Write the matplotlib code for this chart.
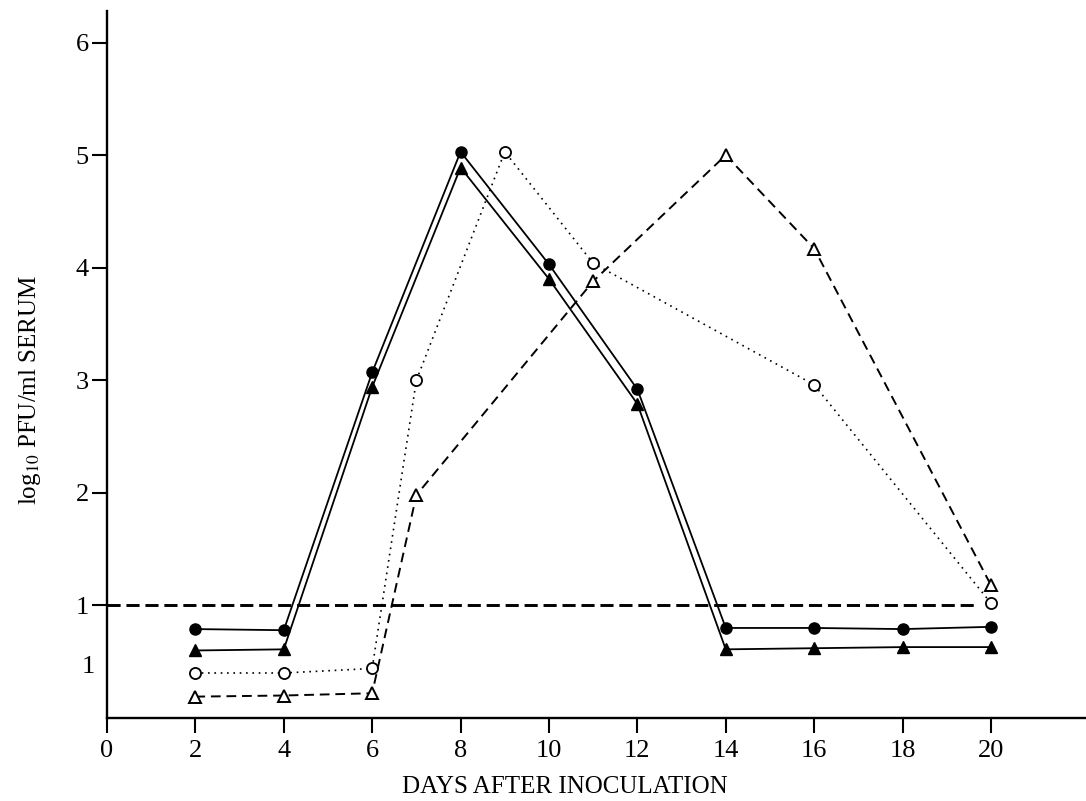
import matplotlib
matplotlib.use("Agg")
import matplotlib.pyplot as plt
import matplotlib.transforms as mtransforms

plt.rcParams['font.family'] = ['Liberation Serif', 'DejaVu Serif']
plt.rcParams['mathtext.fontset'] = 'stix'

# data
days_solid = [2, 4, 6, 8, 10, 12, 14, 16, 18, 20]
filled_circle = [0.79, 0.78, 3.07, 5.03, 4.03, 2.92, 0.80, 0.80, 0.79, 0.81]
filled_triangle = [0.60, 0.61, 2.94, 4.89, 3.90, 2.79, 0.61, 0.62, 0.63, 0.63]

days_open_circle = [2, 4, 6, 7, 9, 11, 16, 20]
open_circle = [0.40, 0.40, 0.44, 3.00, 5.03, 4.04, 2.96, 1.02]

days_open_triangle = [2, 4, 6, 7, 11, 14, 16, 20]
open_triangle = [0.19, 0.20, 0.22, 1.98, 3.88, 5.00, 4.17, 1.18]

limit_x = [0, 19.65]
limit_y = [1, 1]

x_ticks = [0, 2, 4, 6, 8, 10, 12, 14, 16, 18, 20]
y_ticks = [1, 2, 3, 4, 5, 6]

fig = plt.figure(figsize=(10.86, 8.01), dpi=100)
ax = fig.add_axes([0.0985, 0.1036, 0.9015, 0.8826])

ax.plot(limit_x, limit_y, color='black', lw=2.1, linestyle=(0, (4.5, 2.0)))

ax.plot(days_solid, filled_circle, color='black', lw=1.3, marker='o', ms=8)
ax.plot(days_solid, filled_triangle, color='black', lw=1.3, marker='^', ms=8)
ax.plot(days_open_circle, open_circle, color='black', lw=1.2, linestyle=(0, (1, 2.8)),
        marker='o', ms=8, mfc='white', mew=1.3)
ax.plot(days_open_triangle, open_triangle, color='black', lw=1.4, linestyle=(0, (5, 3)),
        marker='^', ms=8, mfc='white', mew=1.4)

ax.set_xlim(0, 22.15)
ax.set_ylim(0, 6.28)
ax.set_xticks(x_ticks)
ax.set_yticks(y_ticks)
ax.tick_params(axis='x', direction='out', length=11, width=1.5, pad=5, labelsize=19)
ax.tick_params(axis='y', direction='out', length=11, width=1.5, pad=2, labelsize=19)

for side in ['top', 'right']:
    ax.spines[side].set_visible(False)
for side in ['left', 'bottom']:
    ax.spines[side].set_linewidth(1.7)

# second "1" below the limit line (no tick mark)
trans = mtransforms.blended_transform_factory(ax.transAxes, ax.transData)
ax.text(-0.012, 0.45, '1', transform=trans, ha='right', va='center', fontsize=19)

fig.text(565 / 1086, 1 - 787 / 801, 'DAYS AFTER INOCULATION', ha='center', va='center',
         fontsize=18)
fig.text(30 / 1086, 1 - 390 / 801, r'log$_{10}$ PFU/ml SERUM', rotation=90,
         ha='center', va='center', fontsize=18)

fig.savefig('out.png', dpi=100)
